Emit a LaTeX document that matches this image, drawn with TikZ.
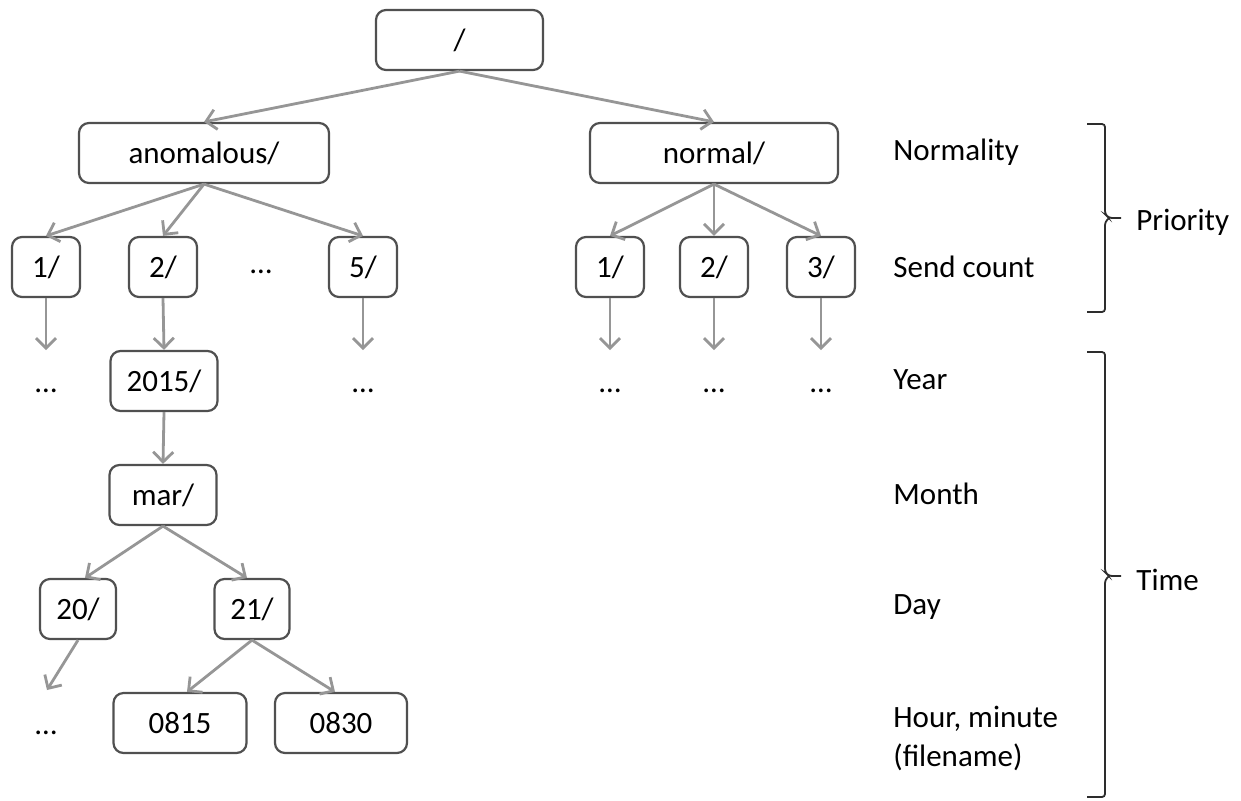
\documentclass[tikz,border=0pt]{standalone}
\usepackage{fontspec}
\setmainfont{Carlito}
\usetikzlibrary{arrows.meta}
\definecolor{boxgray}{RGB}{80,80,80}
\definecolor{linkgray}{RGB}{150,150,150}
\definecolor{bracegray}{RGB}{45,45,45}
\newcommand\labelfont{\fontsize{15.5}{19.5}\selectfont}
\begin{document}
\begin{tikzpicture}[x=0.5pt,y=-0.5pt,
  box/.style={draw=boxgray, line width=1.1pt, rounded corners=5pt, inner sep=0pt,
              minimum height=30pt, font=\labelfont, text=black},
  link/.style={draw=linkgray, line width=1.4pt, -{Straight Barb[length=5pt,width=10pt]}},
  dots/.style={font=\labelfont, inner sep=0pt},
  lbl/.style={anchor=west, font=\labelfont, inner sep=0pt, align=left},
  brace/.style={draw=bracegray, line width=0.9pt, rounded corners=1.5pt}]
\useasboundingbox (0,0) rectangle (1241,800);

% directory tree
\node[box, minimum width=83.5pt] (root) at (459.5,40) {/};
\node[box, minimum width=125pt] (anom) at (204,153) {anomalous/};
\node[box, minimum width=124pt] (norm) at (714,153) {normal/};

\node[box, minimum width=34pt] (a1) at (46,267) {1/};
\node[box, minimum width=34pt] (a2) at (163,267) {2/};
\node[dots] (adots) at (261,272) {…};
\node[box, minimum width=34pt] (a5) at (363,267) {5/};

\node[box, minimum width=34pt] (n1) at (610,267) {1/};
\node[box, minimum width=34pt] (n2) at (714,267) {2/};
\node[box, minimum width=34pt] (n3) at (821,267) {3/};

\coordinate (e1) at (46,350);
\coordinate (e5) at (363,350);
\coordinate (f1) at (610,350);
\coordinate (f2) at (714,350);
\coordinate (f3) at (821,350);
\node[dots] (d1) at (46,391) {…};
\node[dots] (d5) at (363,391) {…};
\node[dots] (g1) at (610,391) {…};
\node[dots] (g2) at (714,391) {…};
\node[dots] (g3) at (821,391) {…};

\node[box, minimum width=53.5pt] (yr) at (164,381) {2015/};
\node[box, minimum width=53.5pt] (mon) at (163,495) {mar/};
\node[box, minimum width=38pt] (d20) at (78,609) {20/};
\node[box, minimum width=37.5pt] (d21) at (252,609) {21/};
\node[box, minimum width=66.5pt] (t1) at (180,723) {0815};
\node[box, minimum width=66pt] (t2) at (341,723) {0830};
\coordinate (e20) at (47,690);
\node[dots] (d20b) at (46,733) {…};

% connectors
\draw[link] (root.south) -- (anom.north);
\draw[link] (root.south) -- (norm.north);
\draw[link] (anom.south) -- (a1.north);
\draw[link] (anom.south) -- (a2.north);
\draw[link] (anom.south) -- (a5.north);
\draw[link] (norm.south) -- (n1.north);
\draw[link] (norm.south) -- (n2.north);
\draw[link] (norm.south) -- (n3.north);
\draw[link] (a1.south) -- (e1);
\draw[link] (a2.south) -- (yr.north);
\draw[link] (a5.south) -- (e5);
\draw[link] (n1.south) -- (f1);
\draw[link] (n2.south) -- (f2);
\draw[link] (n3.south) -- (f3);
\draw[link] (yr.south) -- (mon.north);
\draw[link] (mon.south) -- ([xshift=3.5pt]d20.north);
\draw[link] (mon.south) -- ([xshift=-2.5pt]d21.north);
\draw[link] (d21.south) -- ([xshift=3.5pt]t1.north);
\draw[link] (d21.south) -- ([xshift=-3pt]t2.north);
\draw[link] (d20.south) -- (e20);

% level labels
\node[lbl] (lnorm) at (893,152) {Normality};
\node[lbl] (lsend) at (893,267) {Send count};
\node[lbl] (lyear) at (893,380) {Year};
\node[lbl] (lmonth) at (893,494) {Month};
\node[lbl] (lday) at (893,607) {Day};
\node[lbl] (lhour) at (893,738) {Hour, minute\\(filename)};

% grouping braces
\draw[brace] (1087,124) -- (1105,124) -- (1105,214) -- (1109,218) -- (1121,218);
\draw[brace] (1109,218) -- (1105,222) -- (1105,312) -- (1087,312);
\node[lbl] (lprio) at (1136,222) {Priority};

\draw[brace] (1087,352) -- (1105,352) -- (1105,572) -- (1109,576) -- (1121,576);
\draw[brace] (1109,576) -- (1105,580) -- (1105,797) -- (1087,797);
\node[lbl] (ltime) at (1136,580) {Time};
\end{tikzpicture}
\end{document}
